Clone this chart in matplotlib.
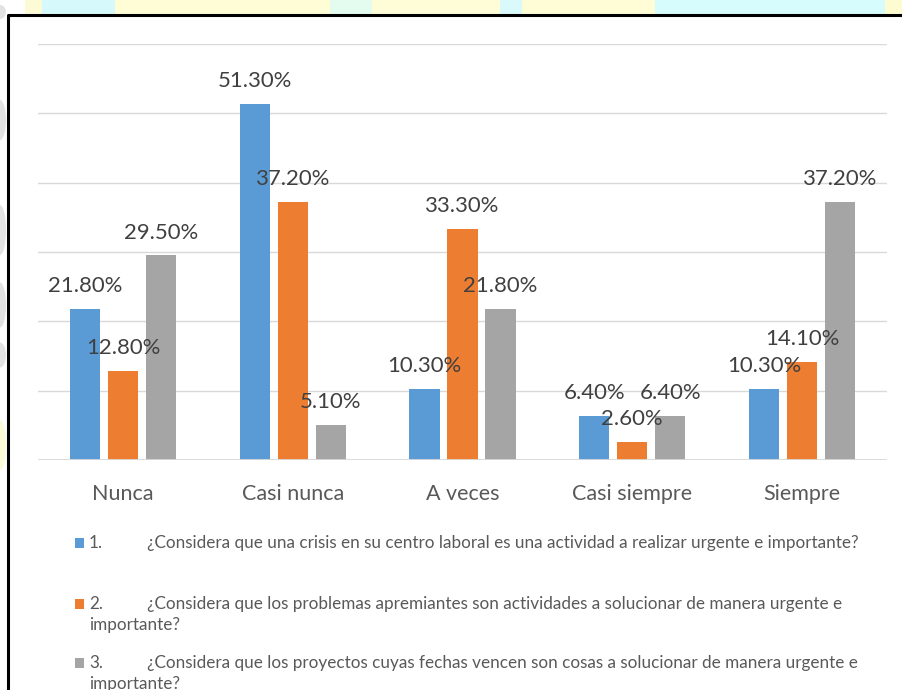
import matplotlib
matplotlib.use("Agg")
import matplotlib.pyplot as plt
from matplotlib.patches import Rectangle, Ellipse
from matplotlib.lines import Line2D
import numpy as np

plt.rcParams['font.family'] = ['Lato', 'DejaVu Sans']

categories = ["Nunca", "Casi nunca", "A veces", "Casi siempre", "Siempre"]
q1_values = [21.8, 51.3, 10.3, 6.4, 10.3]
q2_values = [12.8, 37.2, 33.3, 2.6, 14.1]
q3_values = [29.5, 5.1, 21.8, 6.4, 37.2]
series_names = [
    "¿Considera que una crisis en su centro laboral es una actividad a realizar urgente e importante?",
    "¿Considera que los problemas apremiantes son actividades a solucionar de manera urgente e\nimportante?",
    "¿Considera que los proyectos cuyas fechas vencen son cosas a solucionar de manera urgente e\nimportante?",
]
colors = ["#5B9BD5", "#ED7D31", "#A5A5A5"]

W, H = 903, 690
fig = plt.figure(figsize=(W / 100, H / 100), dpi=100)
fig.patch.set_facecolor("white")

def fx(px):
    return px / W

def fy(py):
    return 1 - py / H

# pastel backdrop peeking out above and left of the chart frame
strip = [(0, 25, "#ffffff"), (25, 42, "#fdfbd6"), (42, 115, "#d6fafc"),
         (115, 330, "#fefdd6"), (330, 372, "#e4fbf0"), (372, 500, "#fefdd8"),
         (500, 522, "#d9f9fb"), (522, 655, "#fefdd6"), (655, 885, "#d6fcfd"),
         (885, 903, "#fdfbd0")]
for x0, x1, c in strip:
    fig.add_artist(Rectangle((fx(x0), fy(15)), fx(x1 - x0), 15 / H,
                             transform=fig.transFigure, color=c, lw=0, zorder=0))
for yc, hh in [(12, 14), (120, 40), (230, 50), (305, 45), (355, 25)]:
    fig.add_artist(Ellipse((fx(0), fy(yc)), fx(12), hh / H, transform=fig.transFigure,
                           color="#e2e2e2", lw=0, zorder=0.5))
fig.add_artist(Ellipse((fx(0), fy(445)), fx(12), 50 / H, transform=fig.transFigure,
                       color="#fcfbd8", lw=0, zorder=0.5))
fig.add_artist(Rectangle((fx(8), 0), fx(W - 8), (H - 15) / H,
                         transform=fig.transFigure, facecolor="white", lw=0, zorder=1))
fig.add_artist(Line2D([fx(8), fx(8), fx(W + 5)], [fy(H + 5), fy(15), fy(15)],
                      transform=fig.transFigure, color="black", lw=2.2, zorder=2))

ax = fig.add_axes([fx(38), fy(460), fx(887 - 38), (460 - 44) / H])
ax.set_facecolor("none")
ax.set_zorder(3)

x = np.arange(len(categories))
offset = 0.2238
bw = 0.1767
for i, vals in enumerate([q1_values, q2_values, q3_values]):
    xs = x + (i - 1) * offset
    ax.bar(xs, vals, width=bw, color=colors[i], zorder=3)
    for xi, v in zip(xs, vals):
        ax.annotate(f"{v:.2f}%", (xi, v), xytext=(0, 16.5), textcoords="offset points",
                    ha="center", va="center", fontsize=15.9, color="#404040", zorder=5)

ax.set_xlim(-0.5, len(categories) - 0.5)
ax.set_ylim(0, 60)
for gy in range(10, 61, 10):
    ax.axhline(gy, color="#d9d9d9", lw=1.0, zorder=1)
ax.axhline(0, color="#d9d9d9", lw=1.3, zorder=4)
for s in ax.spines.values():
    s.set_visible(False)
ax.set_yticks([])
ax.set_xticks(x)
ax.set_xticklabels(categories, fontsize=15.5, color="#595959")
ax.tick_params(axis="x", length=0, pad=17)

# legend drawn as stacked entries
legend_rows = [543, 604, 663]
fs_leg = 12.3
for i, (yy, name) in enumerate(zip(legend_rows, series_names)):
    fig.add_artist(Rectangle((fx(75), fy(yy + 5)), fx(9), 10 / H, transform=fig.transFigure,
                             color=colors[i], lw=0, zorder=4))
    fig.text(fx(89), fy(yy), f"{i + 1}.", fontsize=fs_leg, color="#595959",
             va="center", ha="left", zorder=4)
    lines = name.split("\n")
    fig.text(fx(147), fy(yy), lines[0], fontsize=fs_leg, color="#595959",
             va="center", ha="left", zorder=4)
    if len(lines) > 1:
        fig.text(fx(89), fy(yy + 21), lines[1], fontsize=fs_leg, color="#595959",
                 va="center", ha="left", zorder=4)

fig.savefig("out.png", dpi=100)
